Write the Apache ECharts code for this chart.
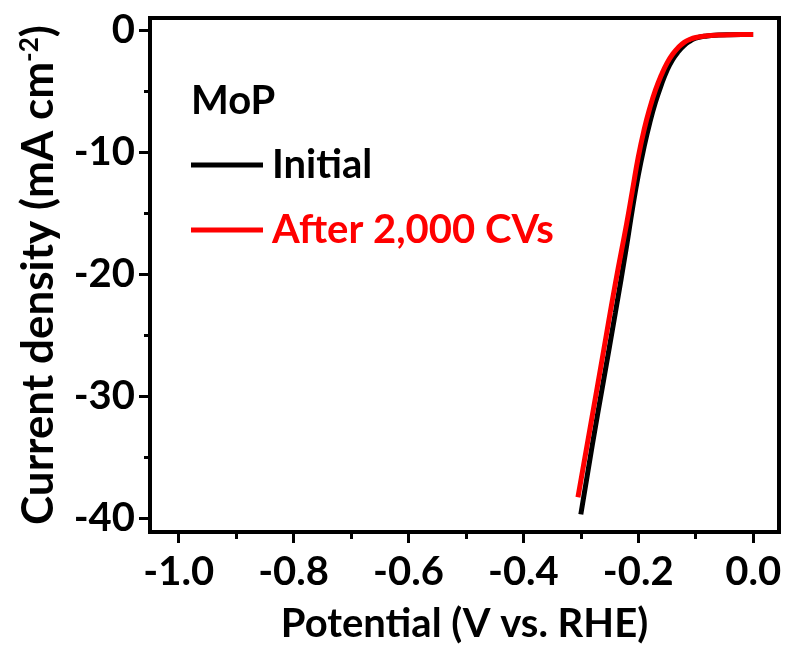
<!DOCTYPE html>
<html>
<head>
<meta charset="utf-8">
<script src="https://cdn.jsdelivr.net/npm/echarts@6/dist/echarts.min.js"></script>
<style>
  html, body { margin: 0; padding: 0; background: #fff; }
  #chart { width: 786px; height: 649px; }
</style>
</head>
<body>
<div id="chart"></div>
<script>
// Polarization curves of MoP before and after cycling
const potentialInitial = [-0.300, -0.28, -0.26, -0.24, -0.22, -0.21, -0.20, -0.19, -0.18, -0.17, -0.16, -0.15, -0.14, -0.13, -0.12, -0.11, -0.10, -0.08, -0.06, -0.04, -0.02, 0.0];
const currentInitial   = [-39.7, -34.0, -28.6, -23.2, -17.6, -14.6, -11.9, -9.6, -7.6, -5.9, -4.5, -3.3, -2.4, -1.75, -1.25, -0.9, -0.65, -0.47, -0.4, -0.37, -0.36, -0.36];

const potentialAfter = [-0.305, -0.28, -0.26, -0.24, -0.22, -0.21, -0.20, -0.19, -0.18, -0.17, -0.16, -0.15, -0.14, -0.13, -0.12, -0.11, -0.10, -0.08, -0.06, -0.04, -0.02, 0.0];
const currentAfter   = [-38.3, -31.6, -26.2, -20.8, -15.8, -13.1, -10.4, -8.2, -6.4, -4.9, -3.7, -2.7, -1.95, -1.4, -1.0, -0.75, -0.6, -0.45, -0.4, -0.37, -0.36, -0.36];

const seriesNames = ['Initial', 'After 2,000 CVs'];
const seriesColors = ['#000000', '#ff0000'];
const sampleName = 'MoP';

const xMajorTicks = [-1.0, -0.8, -0.6, -0.4, -0.2, 0.0];
const xMinorTicks = [-0.9, -0.7, -0.5, -0.3, -0.1];
const yMajorTicks = [0, -10, -20, -30, -40];
const yMinorTicks = [-5, -15, -25, -35];

const FONT = 'Lato';
const zip = (xs, ys) => xs.map((x, i) => [x, ys[i]]);

const xRange = { min: -1.05, max: 0.045 };
const yRange = { min: -41.15, max: 1.0 };

const chart = echarts.init(document.getElementById('chart'), null, { renderer: 'canvas' });

const baseX = {
  type: 'value', gridIndex: 0, position: 'bottom',
  min: xRange.min, max: xRange.max, splitLine: { show: false }
};
const baseY = {
  type: 'value', gridIndex: 0, position: 'left',
  min: yRange.min, max: yRange.max, splitLine: { show: false }
};

chart.setOption({
  animation: false,
  backgroundColor: '#ffffff',
  title: {
    text: sampleName,
    left: 186, top: 76,
    textStyle: { fontFamily: FONT, fontWeight: 'bold', fontSize: 40, color: '#000' }
  },
  legend: {
    orient: 'vertical',
    left: 186, top: 138,
    itemWidth: 72, itemHeight: 5,
    itemGap: 21,
    icon: 'rect',
    textStyle: { fontFamily: FONT, fontWeight: 'bold', fontSize: 40, lineHeight: 44, padding: [0, 0, 0, 4] },
    data: seriesNames.map((n, i) => ({ name: n, textStyle: { color: seriesColors[i] } }))
  },
  grid: {
    left: 150, right: 7, top: 18, bottom: 117,
    containLabel: false, outerBoundsMode: 'none',
    show: true, borderColor: '#000', borderWidth: 4, backgroundColor: 'transparent'
  },
  xAxis: [
    Object.assign({}, baseX, {
      name: 'Potential (V vs. RHE)',
      nameLocation: 'middle', nameGap: 72,
      nameTextStyle: { fontFamily: FONT, fontWeight: 'bold', fontSize: 40, color: '#000' },
      axisLine: { show: true, onZero: false, lineStyle: { color: '#000', width: 4 } },
      axisTick: { show: true, customValues: xMajorTicks, length: 11, lineStyle: { color: '#000', width: 3 } },
      axisLabel: {
        show: true, customValues: xMajorTicks, margin: 20,
        fontFamily: FONT, fontWeight: 'bold', fontSize: 40, color: '#000',
        formatter: v => v.toFixed(1)
      }
    }),
    Object.assign({}, baseX, {
      axisLine: { show: false, onZero: false },
      axisTick: { show: true, customValues: xMinorTicks, length: 7, lineStyle: { color: '#000', width: 3 } },
      axisLabel: { show: false }
    })
  ],
  yAxis: [
    Object.assign({}, baseY, {
      name: 'Current density (mA cm{sup|-2})',
      nameLocation: 'middle', nameGap: 89, nameRotate: 90,
      nameTextStyle: {
        fontFamily: FONT, fontWeight: 'bold', fontSize: 44, color: '#000',
        rich: {
          sup: { fontFamily: FONT, fontWeight: 'bold', fontSize: 26, color: '#000', verticalAlign: 'top', padding: [0, 0, 16, 0] }
        }
      },
      axisLine: { show: true, onZero: false, lineStyle: { color: '#000', width: 4 } },
      axisTick: { show: true, customValues: yMajorTicks, length: 11, lineStyle: { color: '#000', width: 3 } },
      axisLabel: {
        show: true, customValues: yMajorTicks, margin: 15,
        fontFamily: FONT, fontWeight: 'bold', fontSize: 40, color: '#000',
        formatter: v => String(v)
      }
    }),
    Object.assign({}, baseY, {
      axisLine: { show: false, onZero: false },
      axisTick: { show: true, customValues: yMinorTicks, length: 6, lineStyle: { color: '#000', width: 3 } },
      axisLabel: { show: false }
    })
  ],
  series: [
    {
      name: seriesNames[0], type: 'line', xAxisIndex: 0, yAxisIndex: 0,
      data: zip(potentialInitial, currentInitial),
      smooth: true, showSymbol: false,
      lineStyle: { color: seriesColors[0], width: 5 },
      itemStyle: { color: seriesColors[0] }
    },
    {
      name: seriesNames[1], type: 'line', xAxisIndex: 0, yAxisIndex: 0,
      data: zip(potentialAfter, currentAfter),
      smooth: true, showSymbol: false,
      lineStyle: { color: seriesColors[1], width: 5 },
      itemStyle: { color: seriesColors[1] }
    }
  ]
});
</script>
</body>
</html>
